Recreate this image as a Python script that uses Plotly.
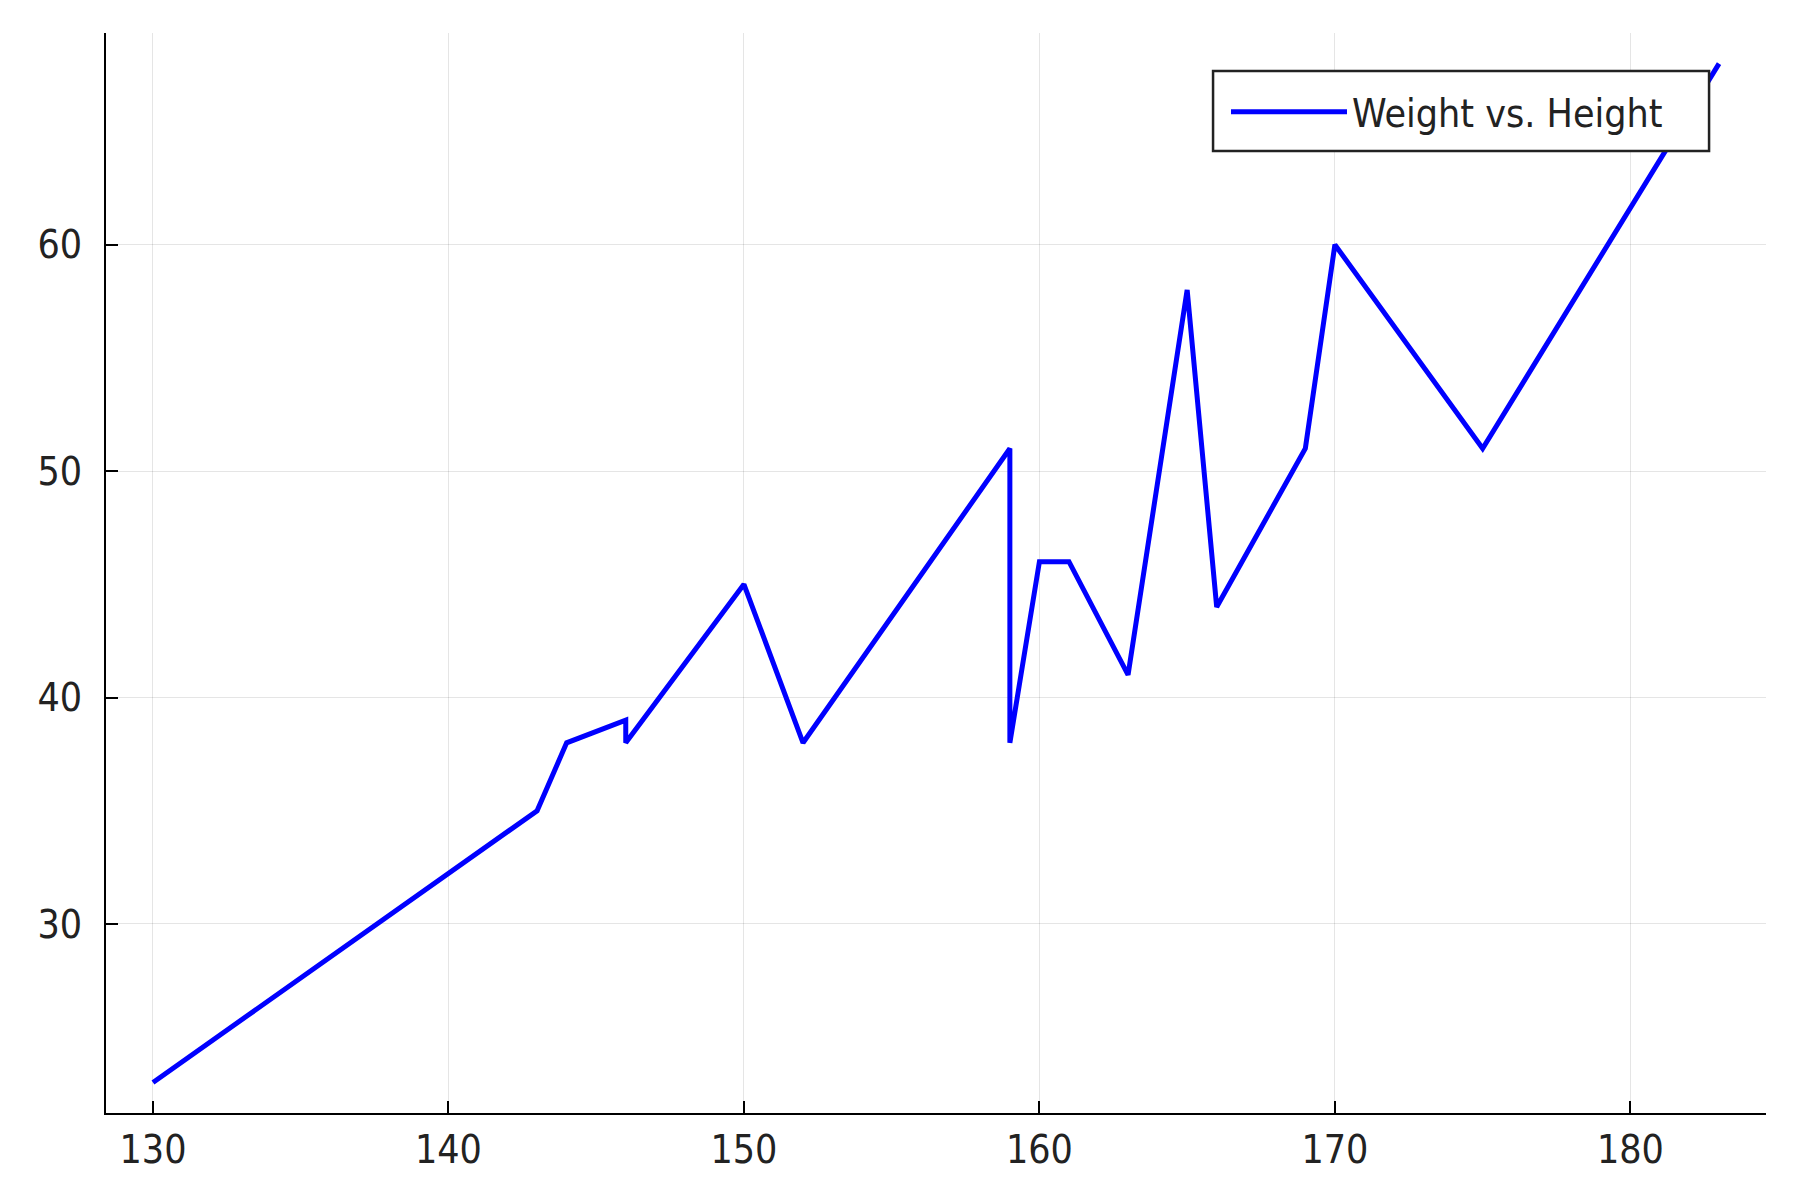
import plotly.graph_objects as go

# Data
heights = [130, 143, 144, 146, 146, 150, 152, 159, 159, 160, 161, 163, 165, 166, 169, 170, 175, 183]
weights = [23, 35, 38, 39, 38, 45, 38, 51, 38, 46, 46, 41, 58, 44, 51, 60, 51, 68]
series_name = "Weight vs. Height"
x_ticks = [130, 140, 150, 160, 170, 180]
y_ticks = [30, 40, 50, 60]

FONT = "DejaVu Sans Condensed, DejaVu Sans"
FS = 39

fig = go.Figure()
fig.add_trace(go.Scatter(
    x=heights, y=weights, mode="lines", name=series_name,
    line=dict(color="#0000FF", width=5),
))

axis_common = dict(
    showline=True, linecolor="#000000", linewidth=2, mirror=False,
    showgrid=True, gridcolor="rgba(0,0,0,0.1)", gridwidth=1.2,
    zeroline=False, ticks="inside", ticklen=12, tickwidth=2, tickcolor="#000000",
    tickfont=dict(family=FONT, size=FS, color="#222222"),
)

fig.update_layout(
    width=1800, height=1200,
    margin=dict(l=106, r=34, t=33, b=87),
    paper_bgcolor="white", plot_bgcolor="white",
    xaxis=dict(range=[128.41, 184.59], tickvals=x_ticks, ticklabelstandoff=1, **axis_common),
    yaxis=dict(range=[21.65, 69.35], tickvals=y_ticks, ticklabelstandoff=14, **axis_common),
    showlegend=True,
    legend=dict(
        x=0.6747, y=0.9565, xanchor="left", yanchor="top",
        bgcolor="rgba(0,0,0,0)", borderwidth=0,
        font=dict(family=FONT, size=FS, color="#222222"),
        itemwidth=116,
    ),
    shapes=[dict(
        type="rect", xref="paper", yref="paper",
        x0=0.6669, x1=0.9657, y0=0.8907, y1=0.9648,
        fillcolor="white", line=dict(color="#222222", width=2.5), layer="above",
    )],
)

fig.write_html("out.html", config={"displayModeBar": False},
               post_script="document.body.style.margin='0';")
